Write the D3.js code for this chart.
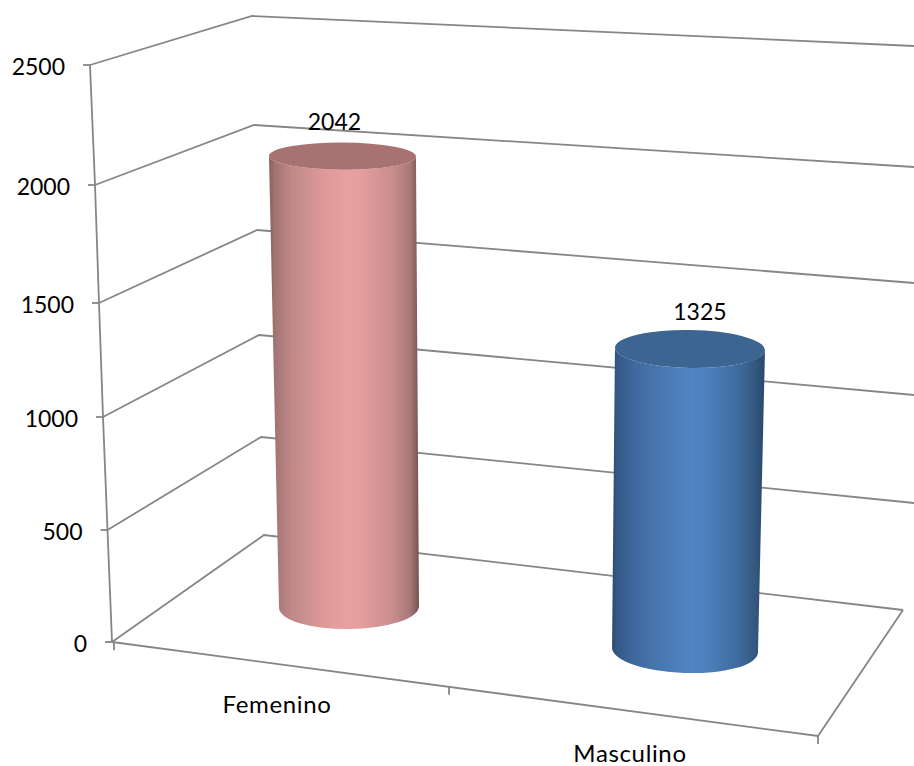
<!DOCTYPE html>
<html>
<head>
<meta charset="utf-8">
<script src="https://cdn.jsdelivr.net/npm/d3@7"></script>
<style>
  html, body { margin: 0; padding: 0; background: #fff; }
  svg { display: block; }
  text { font-family: Lato, "Open Sans", sans-serif; font-size: 23px; fill: #000; }
  text.cat { font-size: 24px; letter-spacing: 0.65px; }
</style>
</head>
<body>
<svg id="chart" width="914" height="766"></svg>
<script>
const categories = ["Femenino", "Masculino"]
const values = [2042, 1325]
const tickValues = [0, 500, 1000, 1500, 2000, 2500]

const width = 914, height = 766
const svg = d3.select("#chart")

// the axis box is in perspective, so each edge gets its own piecewise scale
const frontX = d3.scaleLinear().domain(tickValues).range([112, 107.5, 103, 99, 95, 90])
const frontY = d3.scaleLinear().domain(tickValues).range([642, 530, 417, 303, 185, 65])
const backX = d3.scaleLinear().domain(tickValues).range([264, 261, 259, 257, 254, 252])
const backY = d3.scaleLinear().domain(tickValues).range([535, 437, 335, 230, 125, 16])
const rightX = d3.scaleLinear().domain(tickValues).range([903, 914, 914, 914, 914, 914])
const rightY = d3.scaleLinear().domain(tickValues).range([610, 503, 395, 283, 167, 46])

// cylinder geometry: [at value 0, at value 2500] on each bar's depth plane
const barGeom = [
  { cx: [349, 341], cy: [607, 55], rx: [70, 74.3], ry: [22, 11.6], tilt: [-0.7, 0.5],
    labelDx: -8, labelDy: -22,
    body: ["#8a6060", "#a27474", "#c08888", "#dc9898", "#e8a0a0", "#e59d9d", "#c98d8d", "#a87878", "#755252"], top: "#a87272" },
  { cx: [685, 694.4], cy: [650, 82], rx: [73, 76.8], ry: [23, 15.5], tilt: [2, 0],
    labelDx: 10, labelDy: -19,
    body: ["#2c4a70", "#355a88", "#3f6a9f", "#4a7ab3", "#5084c2", "#4c7fbb", "#3f6c9f", "#33577f", "#2a476a"], top: "#3c6591" }
]
const gradStops = [0, 0.04, 0.15, 0.35, 0.52, 0.62, 0.82, 0.94, 1]

const catX = d3.scaleBand().domain(categories).range([100.5, 806.5])
const catY = d3.scaleBand().domain(categories).range([678.5, 776.5])

const gridColor = "#868686"
const lineWidth = 1.8
const defs = svg.append("defs")

// back wall and floor lines
const line = d3.line()
svg.append("g").selectAll("path")
  .data(tickValues)
  .join("path")
  .attr("fill", "none").attr("stroke", gridColor).attr("stroke-width", lineWidth)
  .attr("d", v => line([[frontX(v), frontY(v)], [backX(v), backY(v)], [rightX(v), rightY(v)]]))

// front vertical edge of the wall
svg.append("path")
  .attr("fill", "none").attr("stroke", gridColor).attr("stroke-width", lineWidth)
  .attr("d", line(tickValues.map(v => [frontX(v), frontY(v)])))

// floor outline
svg.append("path")
  .attr("fill", "none").attr("stroke", gridColor).attr("stroke-width", lineWidth)
  .attr("d", line([[frontX(0), frontY(0)], [818, 736], [rightX(0), rightY(0)]]))

// value ticks and labels
const yAxis = svg.append("g")
yAxis.selectAll("line")
  .data(tickValues)
  .join("line")
  .attr("stroke", gridColor).attr("stroke-width", lineWidth)
  .attr("x1", v => frontX(v) - 7).attr("x2", v => frontX(v))
  .attr("y1", v => frontY(v)).attr("y2", v => frontY(v))
yAxis.selectAll("text")
  .data(tickValues)
  .join("text")
  .attr("text-anchor", "end").attr("dominant-baseline", "central")
  .attr("x", v => frontX(v) - 25)
  .attr("y", v => frontY(v) + 1)
  .text(v => v)

// category ticks along the front floor edge
const floorFront = d3.scaleLinear().domain([112, 818]).range([642, 736])
svg.append("g").selectAll("line")
  .data([114, 449, 818])
  .join("line")
  .attr("stroke", gridColor).attr("stroke-width", lineWidth)
  .attr("x1", d => d).attr("x2", d => d)
  .attr("y1", d => floorFront(d)).attr("y2", d => floorFront(d) + 8)

svg.append("g").selectAll("text")
  .data(categories)
  .join("text")
  .attr("class", "cat")
  .attr("text-anchor", "middle").attr("dominant-baseline", "central")
  .attr("x", d => catX(d) + catX.bandwidth() / 2)
  .attr("y", d => catY(d) + catY.bandwidth() / 2)
  .text(d => d)

// cylinders
function ellipseAt(g, v) {
  const t = v / 2500
  const at = k => d3.interpolateNumber(g[k][0], g[k][1])(t)
  const deg = at("tilt"), a = deg * Math.PI / 180
  const cx = at("cx"), cy = at("cy"), rx = at("rx"), ry = at("ry")
  return {
    cx, cy, rx, ry, deg,
    lx: cx - rx * Math.cos(a), ly: cy - rx * Math.sin(a),
    rxp: cx + rx * Math.cos(a), ryp: cy + rx * Math.sin(a)
  }
}

const bars = svg.append("g").selectAll("g")
  .data(values.map((v, i) => ({ value: v, geom: barGeom[i], i })))
  .join("g")

bars.each(function(d) {
  const grad = defs.append("linearGradient").attr("id", "bar" + d.i)
  grad.selectAll("stop")
    .data(d.geom.body)
    .join("stop")
    .attr("offset", (c, i) => gradStops[i])
    .attr("stop-color", c => c)

  const b = ellipseAt(d.geom, 0), t = ellipseAt(d.geom, d.value)
  const g = d3.select(this)

  g.append("path")
    .attr("fill", "url(#bar" + d.i + ")")
    .attr("d", `M${t.lx},${t.ly} L${b.lx},${b.ly}
      A${b.rx},${b.ry} ${b.deg} 0 0 ${b.rxp},${b.ryp}
      L${t.rxp},${t.ryp}
      A${t.rx},${t.ry} ${t.deg} 0 1 ${t.lx},${t.ly} Z`)

  g.append("ellipse")
    .attr("fill", d.geom.top)
    .attr("cx", t.cx).attr("cy", t.cy).attr("rx", t.rx).attr("ry", t.ry)
    .attr("transform", `rotate(${t.deg} ${t.cx} ${t.cy})`)

  g.append("text")
    .attr("text-anchor", "middle").attr("dominant-baseline", "central")
    .attr("x", t.cx + d.geom.labelDx)
    .attr("y", t.cy - t.ry + d.geom.labelDy)
    .text(d.value)
})
</script>
</body>
</html>
